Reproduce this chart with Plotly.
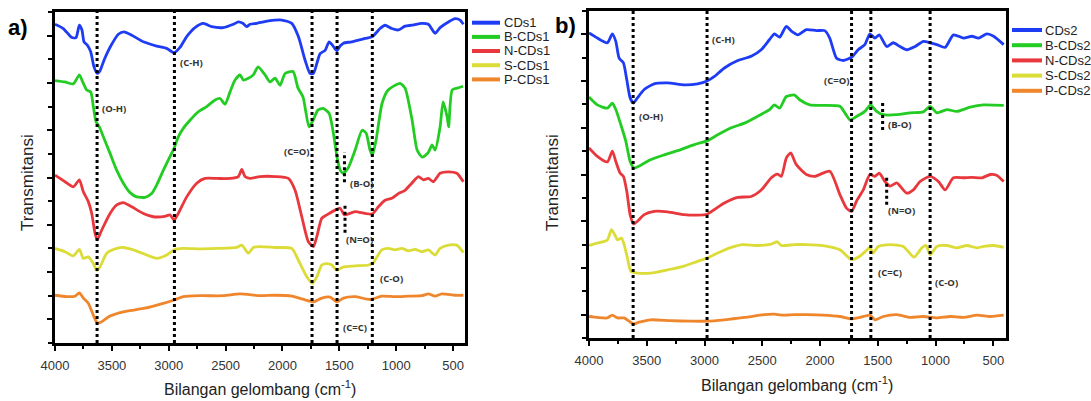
import plotly.graph_objects as go

W, H = 1091, 401
OFF = 0  # body margin removed by post_script below

# ---------------- data (wavenumber cm-1, transmittance a.u.) ----------------
names1 = ["CDs1", "B-CDs1", "N-CDs1", "S-CDs1", "P-CDs1"]
names2 = ["CDs2", "B-CDs2", "N-CDs2", "S-CDs2", "P-CDs2"]
colors = ["#1f3cf5", "#22cc22", "#e8383d", "#dcdc38", "#f0862c"]

wn_CDs1 = [4000,3927,3853,3815,3786,3763,3745,3716,3686,3657,3628,3604,3569,3510,3443,3393,3325,3223,3106,3018,2953,2901,2842,2769,2696,2622,2520,2432,2388,2349,2314,2285,2226,2124,2006,1918,1860,1801,1757,1728,1698,1669,1625,1590,1561,1522,1493,1464,1391,1274,1209,1142,1098,1039,981,922,863,775,717,658,614,541,482,438,409]
t_CDs1 = [67.4,66.5,64.6,64.6,67.2,66.2,63.7,63.0,61.6,58.4,57.0,57.6,59.8,62.8,65.3,65.8,65.1,63.7,62.8,62.3,61.4,62.5,64.8,66.7,67.6,66.9,66.7,67.4,67.9,67.6,66.9,67.4,67.6,68.1,68.3,67.6,64.8,59.8,57.0,57.0,59.1,61.2,61.9,63.7,63.0,61.8,62.8,63.4,63.7,64.4,64.8,66.5,67.2,66.5,66.2,67.0,67.2,67.6,67.4,65.5,66.7,67.9,68.6,68.3,67.4]

wn_BCDs1 = [4000,3912,3839,3786,3756,3721,3686,3663,3639,3610,3575,3516,3457,3399,3340,3281,3208,3150,3106,3048,2989,2953,2916,2872,2813,2740,2666,2593,2549,2505,2461,2417,2373,2344,2300,2256,2215,2153,2109,2065,2021,1977,1907,1863,1819,1766,1731,1687,1643,1590,1555,1520,1493,1467,1423,1361,1300,1265,1230,1209,1177,1124,1071,966,922,860,816,772,720,684,658,614,588,552,539,508,464,412]
t_BCDs1 = [55.5,55.2,54.8,56.7,55.2,53.5,53.1,50.0,46.8,45.7,43.6,40.1,36.5,33.8,31.8,30.9,30.8,31.6,33.4,36.5,39.4,41.2,43.6,45.4,47.1,48.9,50.0,51.4,51.7,50.5,53.1,55.6,56.7,55.6,56.0,56.7,58.4,56.7,55.2,56.0,54.5,57.0,57.4,53.9,52.0,45.7,47.1,49.3,49.6,48.6,44.8,39.3,36.6,35.9,37.0,40.8,45.0,44.4,40.8,39.7,42.9,50.7,53.5,54.9,53.9,47.1,40.8,39.3,40.2,41.9,40.8,45.7,51.0,47.8,45.7,53.5,53.9,54.3]

wn_NCDs1 = [4000,3912,3839,3786,3751,3707,3677,3648,3628,3589,3516,3457,3399,3325,3223,3135,3033,2989,2953,2916,2842,2754,2681,2578,2461,2388,2358,2329,2285,2197,2065,1948,1889,1830,1772,1728,1698,1654,1610,1537,1493,1456,1420,1362,1274,1209,1157,1098,1039,981,922,863,805,761,717,673,614,541,467,409]
t_NCDs1 = [35.5,34.1,33.0,34.5,32.0,29.9,27.4,23.2,21.8,23.9,27.4,29.2,29.7,28.8,27.4,26.7,26.8,27.1,26.0,27.4,30.9,33.8,34.8,34.8,34.8,35.2,36.7,35.2,34.8,35.2,35.2,34.8,32.3,26.7,21.4,20.4,22.5,26.4,27.1,28.1,28.5,27.1,27.3,27.8,27.4,27.3,28.8,30.2,30.6,31.6,32.3,33.8,35.2,34.5,34.8,34.1,35.9,36.2,35.9,34.1]

wn_SCDs1 = [4000,3912,3839,3786,3751,3707,3663,3633,3604,3545,3457,3399,3311,3194,3106,3018,2953,2872,2725,2578,2402,2358,2300,2256,2197,2065,1918,1860,1786,1737,1698,1654,1610,1566,1522,1464,1362,1245,1201,1127,1069,1010,951,893,834,775,717,658,614,541,467,409]
t_SCDs1 = [20.0,19.3,18.4,19.8,17.9,18.2,16.8,15.4,16.1,19.0,20.0,20.2,19.7,18.6,17.9,18.6,19.7,20.0,19.9,20.0,20.2,20.7,19.0,20.2,20.4,20.2,20.0,17.5,14.0,12.6,14.0,16.5,16.8,16.5,15.4,16.1,16.3,16.5,17.0,19.7,20.0,19.7,20.0,19.5,19.8,19.3,19.7,18.6,20.0,20.7,20.7,19.1]

wn_PCDs1 = [4000,3897,3824,3786,3751,3707,3663,3628,3589,3516,3399,3223,3048,2953,2872,2725,2520,2373,2197,2065,1918,1801,1728,1654,1581,1522,1464,1362,1230,1127,1010,893,775,717,658,599,482,409]
t_PCDs1 = [10.1,9.8,9.9,10.6,9.5,8.4,5.9,4.2,4.5,5.7,6.6,7.3,8.4,9.1,9.8,10.0,10.0,10.4,10.0,10.1,9.9,9.1,8.7,9.5,9.7,8.7,9.5,9.8,9.2,9.9,9.8,9.9,10.0,10.4,9.9,10.4,10.1,10.1]

wn_CDs2 = [4000,3928,3841,3798,3768,3739,3702,3673,3644,3615,3581,3522,3436,3320,3175,3060,2978,2914,2828,2712,2596,2509,2437,2394,2350,2292,2248,2191,2118,2031,1959,1916,1857,1800,1727,1670,1612,1568,1525,1487,1423,1366,1308,1249,1177,1105,1047,989,917,845,758,685,628,555,497,410]
t_CDs2 = [65.3,64.2,63.2,65.1,63.5,59.9,58.9,55.3,51.4,50.3,51.4,53.2,54.4,54.6,54.2,54.4,55.0,56.0,57.8,59.4,60.3,61.7,63.9,65.1,64.4,66.7,65.7,64.9,66.0,65.8,65.8,64.2,59.9,59.4,60.1,61.7,62.8,65.1,64.2,64.9,62.4,63.2,62.4,61.7,62.4,63.5,63.2,62.8,62.2,64.9,64.2,64.6,64.2,65.1,64.6,62.8]

wn_BCDs2 = [4000,3928,3841,3798,3768,3725,3681,3644,3609,3551,3464,3349,3233,3088,2978,2886,2769,2654,2538,2437,2394,2350,2292,2220,2176,2089,1974,1828,1785,1741,1684,1612,1562,1510,1453,1336,1221,1105,1047,989,902,815,700,584,410]
t_BCDs2 = [51.6,49.9,49.2,50.3,48.9,45.7,42.1,37.8,36.4,37.0,38.2,39.2,40.1,41.4,42.2,43.5,45.0,46.0,47.5,48.9,49.9,49.2,51.7,52.0,51.0,49.9,49.8,49.6,48.2,46.7,47.4,48.5,49.9,48.5,47.8,47.8,48.2,48.4,49.6,48.2,48.9,48.5,49.4,49.9,49.8]

wn_NCDs2 = [4000,3928,3841,3798,3768,3731,3702,3673,3644,3615,3581,3522,3436,3320,3175,3060,2978,2914,2828,2712,2596,2509,2422,2370,2335,2292,2254,2205,2118,2046,1916,1828,1771,1727,1684,1626,1568,1525,1487,1438,1394,1336,1249,1192,1134,1047,975,917,845,758,685,598,526,468,410]
t_NCDs2 = [40.7,38.9,37.7,40.0,37.8,35.3,34.6,31.4,26.4,24.4,25.0,26.4,27.1,27.0,26.4,26.3,26.5,27.5,28.9,30.1,30.3,31.7,34.3,35.1,34.6,38.5,39.6,37.1,35.0,34.6,35.7,30.7,27.8,27.1,29.3,31.7,35.0,34.6,35.3,33.5,32.5,33.2,31.0,31.7,33.5,34.6,33.5,31.7,34.3,34.3,34.4,34.3,35.0,34.8,33.5]

wn_SCDs2 = [4000,3928,3841,3806,3777,3754,3719,3696,3667,3638,3581,3464,3320,3175,3060,2978,2886,2769,2669,2538,2422,2370,2335,2220,2118,1974,1828,1727,1655,1592,1568,1540,1496,1394,1279,1186,1119,1082,1047,989,902,815,728,642,584,497,410]
t_SCDs2 = [19.8,20.3,21.0,23.2,22.1,21.0,21.4,20.0,17.1,14.3,13.9,13.9,14.6,15.4,16.4,17.1,18.2,19.4,20.0,19.8,20.1,20.6,19.8,20.0,20.0,19.8,18.9,16.8,17.5,18.9,19.4,18.2,19.6,20.0,19.6,17.3,19.3,19.8,17.8,19.6,19.8,19.3,19.8,19.3,19.6,19.8,19.4]

wn_PCDs2 = [4000,3928,3841,3798,3754,3696,3653,3615,3566,3464,3290,3117,2978,2828,2654,2480,2394,2335,2220,2118,1974,1828,1727,1655,1568,1525,1453,1336,1221,1105,989,874,758,642,526,410]
t_PCDs2 = [4.6,4.4,4.3,4.9,4.3,4.3,3.6,3.0,3.4,3.9,3.7,3.6,3.6,3.9,4.4,5.0,5.1,4.9,5.0,5.0,4.9,4.6,4.1,4.4,4.9,3.9,4.6,5.0,4.4,4.6,4.3,4.6,4.4,4.9,4.6,4.9]

# band assignments (full-height dotted lines)
bands1_wn = [3630, 2950, 1740, 1520, 1210]
bands2_wn = [3618, 2978, 1727, 1560, 1047]
# short dotted markers: wavenumber, from, to
short1 = [(1455, 34.0, 40.4), (1450, 23.3, 29.6)]
short2 = [(1458, 44.5, 50.7), (1423, 28.5, 34.9)]
# band labels: text, wavenumber, transmittance, anchor
labels1 = [("(O-H)", 3604, 49.5, "left"), ("(C-H)", 2918, 59.4, "left"),
           ("(C=O)", 1740, 40.6, "right"), ("(B-O)", 1423, 33.8, "left"),
           ("(N=O)", 1458, 21.8, "left"), ("(C-O)", 1159, 13.7, "left"),
           ("(C=C)", 1485, 3.2, "left")]
labels2 = [("(O-H)", 3583, 47.5, "left"), ("(C-H)", 2949, 64.0, "left"),
           ("(C=O)", 1727, 55.1, "right"), ("(B-O)", 1429, 45.6, "left"),
           ("(N=O)", 1429, 27.2, "left"), ("(C=C)", 1516, 14.1, "left"),
           ("(C-O)", 1021, 11.8, "left")]

series1 = [(wn_CDs1, t_CDs1), (wn_BCDs1, t_BCDs1), (wn_NCDs1, t_NCDs1), (wn_SCDs1, t_SCDs1), (wn_PCDs1, t_PCDs1)]
series2 = [(wn_CDs2, t_CDs2), (wn_BCDs2, t_BCDs2), (wn_NCDs2, t_NCDs2), (wn_SCDs2, t_SCDs2), (wn_PCDs2, t_PCDs2)]

# ---------------- figure ----------------
def px(x):
    return (x - OFF) / W

def py(y):
    return 1 - (y - OFF) / H

fig = go.Figure()
for (wn, t), name, c in zip(series1, names1, colors):
    fig.add_trace(go.Scatter(x=wn, y=t, mode="lines", name=name, showlegend=False,
                             line=dict(color=c, width=2.8, shape="spline", smoothing=0.6),
                             xaxis="x", yaxis="y"))
for (wn, t), name, c in zip(series2, names2, colors):
    fig.add_trace(go.Scatter(x=wn, y=t, mode="lines", name=name, showlegend=False,
                             line=dict(color=c, width=2.8, shape="spline", smoothing=0.6),
                             xaxis="x2", yaxis="y2"))

tickfont = dict(family="Liberation Sans, Arial", size=13, color="#333")

def xax(domain, rng, anchor):
    return dict(domain=domain, range=rng, anchor=anchor, tickmode="linear", tick0=0, dtick=500,
                ticks="outside", ticklen=5, tickwidth=2, tickcolor="black",
                minor=dict(ticks="outside", dtick=250, tick0=0, ticklen=3, tickwidth=2, tickcolor="black"),
                showline=True, linewidth=3, linecolor="black", mirror=True, automargin=False,
                showgrid=False, zeroline=False, tickfont=tickfont, ticklabelstandoff=3)

def yax(domain, anchor):
    return dict(domain=domain, range=[0, 70], anchor=anchor, tickmode="linear", tick0=5, dtick=10,
                showticklabels=False, ticks="outside", ticklen=5, tickwidth=2, tickcolor="black",
                minor=dict(ticks="outside", dtick=10, tick0=0, ticklen=4, tickwidth=2, tickcolor="black"),
                showline=True, linewidth=3, linecolor="black", mirror=True, automargin=False,
                showgrid=False, zeroline=False)

shapes = []
annotations = []
for xr, yr, bands, shorts, labels in [("x", "y", bands1_wn, short1, labels1),
                                      ("x2", "y2", bands2_wn, short2, labels2)]:
    for b in bands:
        shapes.append(dict(type="line", xref=xr, yref=yr + " domain", x0=b, x1=b, y0=0, y1=1,
                           line=dict(color="black", width=3, dash="dot")))
    for b, y0, y1 in shorts:
        shapes.append(dict(type="line", xref=xr, yref=yr, x0=b, x1=b, y0=y0, y1=y1,
                           line=dict(color="black", width=3, dash="dot")))
    for txt, wx, ty, anc in labels:
        annotations.append(dict(text="<b>" + txt + "</b>", x=wx, y=ty, xref=xr, yref=yr,
                                xanchor=anc, yanchor="middle", showarrow=False,
                                font=dict(family="Open Sans", size=9.5, color="#333")))

# manual legends
for names, x0, x1, xt, ys in [(names1, 472, 500, 502, [22.7, 36.9, 51.0, 65.2, 79.4]),
                              (names2, 1012, 1042, 1043, [30.0, 45.2, 60.4, 75.6, 90.8])]:
    for name, c, y in zip(names, colors, ys):
        shapes.append(dict(type="line", xref="paper", yref="paper", x0=px(x0), x1=px(x1),
                           y0=py(y), y1=py(y), line=dict(color=c, width=4)))
        annotations.append(dict(text=name, x=px(xt), y=py(y), xref="paper", yref="paper",
                                xanchor="left", yanchor="middle", showarrow=False,
                                font=dict(family="Liberation Sans, Arial", size=13, color="#222")))

titlefont = dict(family="Liberation Sans, Arial", size=16, color="#222")
for xc, yc in [(260, 388), (797, 384)]:
    annotations.append(dict(text="Bilangan gelombang (cm<sup>-1</sup>)", x=px(xc), y=py(yc),
                            xref="paper", yref="paper", xanchor="center", yanchor="middle",
                            showarrow=False, font=titlefont))
for xc, yc in [(27, 183), (552, 183)]:
    annotations.append(dict(text="Transmitansi", x=px(xc), y=py(yc), xref="paper", yref="paper",
                            xanchor="center", yanchor="middle", textangle=-90, showarrow=False,
                            font=dict(family="Liberation Sans, Arial", size=17, color="#222")))
for txt, xc, yc in [("a)", 18, 28), ("b)", 565, 25)]:
    annotations.append(dict(text="<b>" + txt + "</b>", x=px(xc), y=py(yc), xref="paper", yref="paper",
                            xanchor="center", yanchor="middle", showarrow=False,
                            font=dict(family="Liberation Sans, Arial", size=22, color="black")))

fig.update_layout(
    width=W, height=H, margin=dict(l=0, r=0, t=0, b=0, autoexpand=False),
    paper_bgcolor="white", plot_bgcolor="white", showlegend=False,
    xaxis=xax([px(55), px(465)], [4000, 395], "y"),
    yaxis=yax([py(343), py(12)], "x"),
    xaxis2=xax([px(589), px(1006)], [4000, 390], "y2"),
    yaxis2=yax([py(338), py(11)], "x2"),
    shapes=shapes, annotations=annotations,
)

fig.write_html("out.html", config={"displayModeBar": False},
               post_script="document.body.style.margin='0';document.body.style.overflow='hidden';")
